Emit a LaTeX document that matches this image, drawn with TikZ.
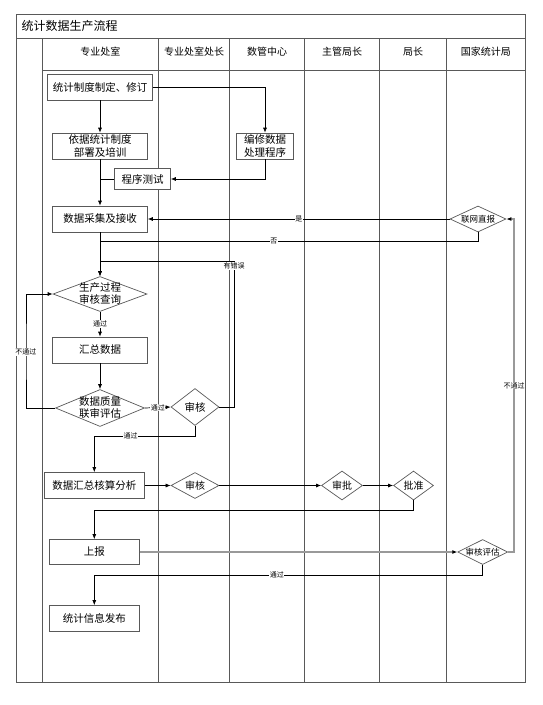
\documentclass[tikz,border=0pt]{standalone}
\usepackage{fontspec}
\setmainfont{Noto Sans CJK SC}
\usetikzlibrary{shapes.geometric, arrows.meta}

\begin{document}
\begin{tikzpicture}[x = 1pt, y = -1pt, > = {Latex[length = 5pt, width = 4pt]}, line width = 0.7pt,
	frame/.style = {draw = black!65, line width = 0.8pt},
	box/.style = {draw = black!65, fill = white, inner sep = 0pt, align = center, font = \fontsize{10.5}{12.5}\selectfont},
	decision/.style = {diamond, draw = black!65, fill = white, inner sep = 0pt, align = center, font = \fontsize{10}{12}\selectfont},
	note/.style = {fill = white, inner sep = 0.6pt, font = \fontsize{7}{7}\selectfont},
	graypath/.style = {draw = black!40, line width = 1.4pt}]

	% Definitions

	\def\Top{38}		% Top of the lanes
	\def\Bot{682}		% Bottom of the lanes

	\useasboundingbox (0, 0) rectangle (543, 705);

	% Draw frame and lanes

	\draw [frame] (16.5, 14) rectangle (525, \Bot);
	\draw [frame] (16.5, \Top) -- (525, \Top);
	\draw [frame] (42, 70) -- (525, 70);
	\foreach \x in {42, 158.5, 229.5, 304.5, 379.5, 446.5}
		\draw [frame] (\x, \Top) -- (\x, \Bot);

	\node [anchor = west, font = \fontsize{12}{12}\selectfont] (title) at (18, 26) {统计数据生产流程};

	\foreach \x/\s [count = \n] in {100.25/专业处室, 194/专业处室处长, 267/数管中心, 342/主管局长, 413/局长, 485.75/国家统计局}
		\node [font = \fontsize{10}{10}\selectfont] (head\n) at (\x, 52) {\s};

	% Draw steps

	\node [box, minimum width = 105pt, minimum height = 26pt] (rule) at (100, 87) {统计制度制定、修订};
	\node [box, minimum width = 95pt, minimum height = 26pt] (train) at (100, 146) {依据统计制度\\部署及培训};
	\node [box, minimum width = 57pt, minimum height = 26pt] (prog) at (265, 146) {编修数据\\处理程序};
	\node [box, minimum width = 56pt, minimum height = 21pt] (test) at (142.5, 179) {程序测试};
	\node [box, minimum width = 95pt, minimum height = 26pt] (collect) at (100, 219) {数据采集及接收};
	\node [decision, font = \fontsize{8.5}{9}\selectfont, shape aspect = 2.15, minimum width = 56pt, minimum height = 26pt] (direct) at (478, 219) {联网直报};
	\node [decision, font = \fontsize{10.5}{12}\selectfont, inner sep = -4pt, shape aspect = 2.69, minimum width = 94pt, minimum height = 35pt] (check) at (100, 294) {生产过程\\审核查询};
	\node [box, minimum width = 95pt, minimum height = 26pt] (sumup) at (100, 350) {汇总数据};
	\node [decision, font = \fontsize{10.5}{12}\selectfont, inner sep = -4pt, shape aspect = 2.4, minimum width = 89pt, minimum height = 37pt] (quality) at (100, 408) {数据质量\\联审评估};
	\node [decision, font = \fontsize{10.5}{12}\selectfont, shape aspect = 1.3, minimum width = 48pt, minimum height = 37pt] (audit1) at (195, 407) {审核};
	\node [box, minimum width = 100pt, minimum height = 26pt] (analyse) at (94.3, 485.5) {数据汇总核算分析};
	\node [decision, shape aspect = 1.85, minimum width = 48pt, minimum height = 26pt] (audit2) at (195, 485.5) {审核};
	\node [decision, shape aspect = 1.41, minimum width = 41pt, minimum height = 29pt] (approve) at (342, 485.5) {审批};
	\node [decision, shape aspect = 1.38, minimum width = 40pt, minimum height = 29pt] (permit) at (413.5, 485.5) {批准};
	\node [box, minimum width = 90pt, minimum height = 25pt] (report) at (94.3, 552) {上报};
	\node [decision, font = \fontsize{8.5}{9}\selectfont, inner sep = -1pt, shape aspect = 2, minimum width = 50pt, minimum height = 25pt] (assess) at (482.7, 552) {审核评估};
	\node [box, minimum width = 90pt, minimum height = 26pt] (publish) at (94.3, 618.5) {统计信息发布};

	\coordinate (join) at (100, 241);
	\coordinate (err) at (234, 261);
	\coordinate (loop) at (26, 352);

	% Draw connectors

	\draw [->] (rule) -- (train);
	\draw [->] (rule.east) -| (prog.north);
	\draw [->] (prog.south) |- (test.east);
	\draw (test.west) -- (test.west -| train.south);
	\draw [->] (train) -- (collect);

	\draw [->] (direct.west) -- node [note] {是} (collect.east);
	\draw (direct.south) |- node [note, pos = 0.77] {否} (join);
	\draw [->] (collect) -- (check);
	\draw [->] (audit1.east) -| (err) node [note, below = 1pt] {有错误} -| (check.north);

	\draw [->] (check) -- node [note] {通过} (sumup);
	\draw [->] (sumup) -- (quality);
	\draw [->] (quality.west) -| (loop) node [note] {不通过} |- (check.west);
	\draw [->] (quality.east) -- node [note] {通过} (audit1.west);
	\draw [->] (audit1.south) -- ++(0, 10) -| node [note, pos = 0.32] {通过} (analyse.north);

	\draw [->] (analyse) -- (audit2);
	\draw [->] (audit2) -- (approve);
	\draw [->] (approve) -- (permit);
	\draw [->] (permit.south) -- ++(0, 10) -| (report.north);

	\draw [graypath, -{Latex[length = 5pt, width = 4pt, color = black]}] (report) -- (assess);
	\draw [graypath, -{Latex[length = 5pt, width = 4pt, color = black]}] (assess.east) -- ++(6, 0) |- node [note, pos = 0.25] {不通过} (direct.east);
	\draw [->] (assess.south) -- ++(0, 10) -| node [note, pos = 0.265] {通过} (publish.north);

\end{tikzpicture}
\end{document}
